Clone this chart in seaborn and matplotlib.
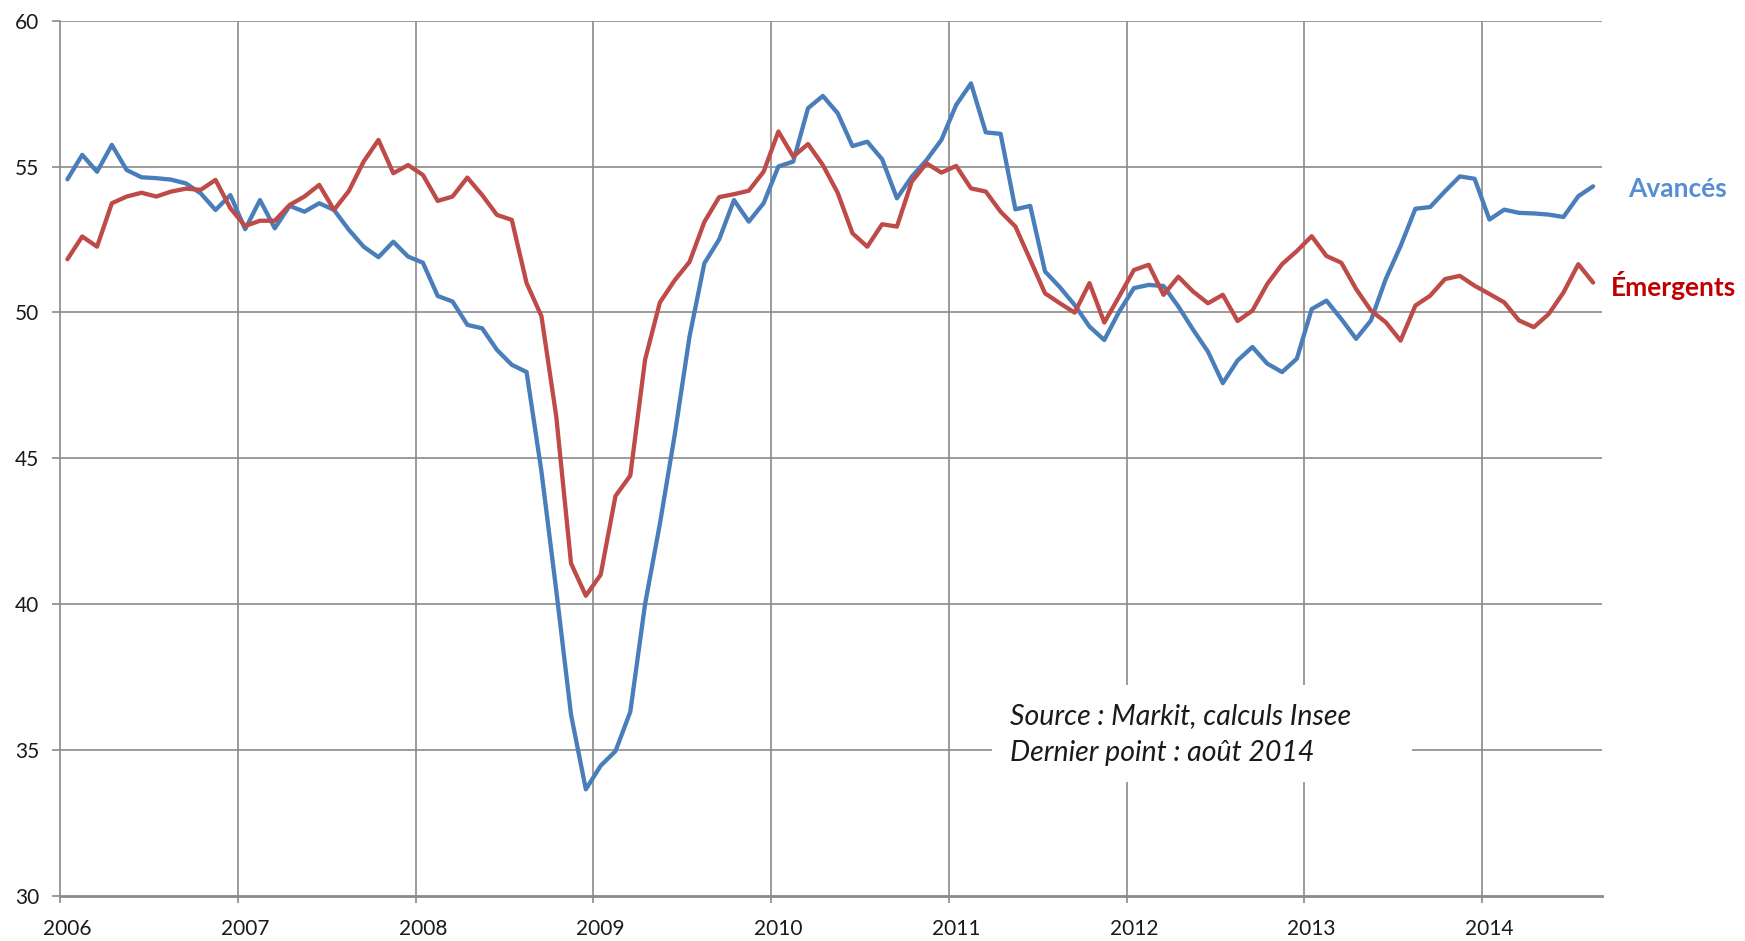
import numpy as np
import pandas as pd
import matplotlib
matplotlib.use("Agg")
import matplotlib.pyplot as plt
from matplotlib.patches import Rectangle
import seaborn as sns

# ---- data (monthly, Jan 2006 -> Aug 2014) ----
years = ["2006", "2007", "2008", "2009", "2010", "2011", "2012", "2013", "2014"]

avances = [54.56, 55.40, 54.82, 55.74, 54.88, 54.63, 54.60, 54.55, 54.42, 54.08, 53.51, 54.02,
           52.85, 53.85, 52.88, 53.65, 53.45, 53.74, 53.51, 52.83, 52.25, 51.89, 52.42, 51.91,
           51.70, 50.56, 50.37, 49.57, 49.45, 48.71, 48.20, 47.95, 44.55, 40.47, 36.20, 33.64,
           34.45, 34.95, 36.30, 40.00, 42.75, 45.80, 49.17, 51.68, 52.50, 53.85, 53.11, 53.74,
           55.00, 55.17, 57.00, 57.42, 56.83, 55.70, 55.85, 55.25, 53.91, 54.65, 55.22, 55.91,
           57.11, 57.85, 56.17, 56.12, 53.53, 53.65, 51.40, 50.86, 50.25, 49.51, 49.05, 50.02,
           50.83, 50.94, 50.90, 50.20, 49.40, 48.65, 47.57, 48.35, 48.81, 48.24, 47.95, 48.41,
           50.11, 50.40, 49.77, 49.09, 49.72, 51.14, 52.27, 53.55, 53.61, 54.15, 54.66, 54.58,
           53.18, 53.52, 53.41, 53.39, 53.35, 53.27, 53.98, 54.32]

emergents = [51.82, 52.60, 52.25, 53.74, 53.97, 54.10, 53.97, 54.14, 54.24, 54.20, 54.54, 53.57,
             52.96, 53.14, 53.14, 53.68, 53.97, 54.37, 53.51, 54.16, 55.17, 55.91, 54.77, 55.05,
             54.71, 53.82, 53.97, 54.62, 54.02, 53.34, 53.17, 51.00, 49.87, 46.44, 41.39, 40.28,
             41.00, 43.70, 44.40, 48.38, 50.34, 51.10, 51.73, 53.10, 53.95, 54.05, 54.17, 54.82,
             56.20, 55.34, 55.77, 55.05, 54.10, 52.71, 52.25, 53.02, 52.94, 54.48, 55.11, 54.79,
             55.02, 54.25, 54.14, 53.45, 52.94, 51.80, 50.65, 50.31, 49.99, 51.00, 49.65, 50.54,
             51.45, 51.63, 50.60, 51.22, 50.71, 50.31, 50.60, 49.70, 50.06, 50.97, 51.65, 52.10,
             52.61, 51.93, 51.70, 50.80, 50.06, 49.66, 49.03, 50.23, 50.57, 51.14, 51.25, 50.91,
             50.63, 50.34, 49.72, 49.49, 49.94, 50.68, 51.65, 51.02]

series_names = ["Avancés", "Émergents"]
yticks = [30, 35, 40, 45, 50, 55, 60]
source_lines = ["Source : Markit, calculs Insee", "Dernier point : août 2014"]

# ---- build table ----
n = len(avances)
month_idx = np.arange(n)
df = pd.DataFrame({
    "mois": np.concatenate([month_idx, month_idx]),
    "valeur": avances + emergents,
    "serie": [series_names[0]] * n + [series_names[1]] * n,
})

sns.set_style("white")
plt.rcParams["font.family"] = ["Lato", "DejaVu Sans"]

W, H = 1745, 941
fig = plt.figure(figsize=(W / 100, H / 100), dpi=100)
ax = fig.add_axes([60 / W, 1 - 895.5 / H, (1602 - 60) / W, (895.5 - 20.7) / H])

grid_col = "#8a8a8a"
line_cols = {"Avancés": "#4a7ebb", "Émergents": "#be4b48"}

sns.lineplot(data=df, x="mois", y="valeur", hue="serie", palette=line_cols,
             linewidth=3.1, legend=False, ax=ax, zorder=3)

ax.set_xlim(-0.5, 103.6)
ax.set_ylim(30, 60)

# y axis
ax.set_yticks(yticks)
ax.set_yticklabels([str(v) for v in yticks])
# x axis: labels at first month of each year, grid at year boundaries
ax.set_xticks([12 * k for k in range(len(years))])
ax.set_xticklabels(years)
ax.set_xticks([12 * k - 0.5 for k in range(len(years))], minor=True)

ax.grid(False)
for v in yticks[1:]:
    ax.axhline(v, color=grid_col, lw=1.2, zorder=1)
for k in range(1, len(years)):
    ax.axvline(12 * k - 0.5, color=grid_col, lw=1.2, zorder=1)

for s in ["top", "right"]:
    ax.spines[s].set_visible(False)
ax.spines["left"].set_color(grid_col)
ax.spines["left"].set_linewidth(1.2)
ax.spines["bottom"].set_color(grid_col)
ax.spines["bottom"].set_linewidth(2.0)

ax.tick_params(axis="y", which="major", direction="out", length=6, width=1.2,
               color=grid_col, labelsize=15, pad=9, labelcolor="#1a1a1a", left=True)
ax.tick_params(axis="x", which="major", length=0, labelsize=15, pad=17,
               labelcolor="#1a1a1a", bottom=True)
ax.tick_params(axis="x", which="minor", direction="out", length=5, width=1.2,
               color=grid_col, bottom=True)
ax.set_xlabel("")
ax.set_ylabel("")

# series labels
fig.text(1628 / W, 1 - 189 / H, series_names[0], color="#558ed5", fontsize=19,
         fontweight="bold", ha="left", va="center")
fig.text(1611 / W, 1 - 285 / H, series_names[1], color="#c00000", fontsize=19,
         fontweight="bold", ha="left", va="center")

# source box
rect = Rectangle((992 / W, 1 - 782 / H), (1412 - 992) / W, (782 - 685) / H,
                 transform=fig.transFigure, facecolor="white", edgecolor="none",
                 zorder=2, clip_on=False)
ax.add_patch(rect)
ax.text(1010 / W, 1 - 716 / H, source_lines[0], transform=fig.transFigure,
        fontsize=20.5, fontstyle="italic", color="#1a1a1a", va="center", ha="left", zorder=4)
ax.text(1010 / W, 1 - 753 / H, source_lines[1], transform=fig.transFigure,
        fontsize=20.5, fontstyle="italic", color="#1a1a1a", va="center", ha="left", zorder=4)

fig.savefig("out.png", dpi=100, facecolor="white")
